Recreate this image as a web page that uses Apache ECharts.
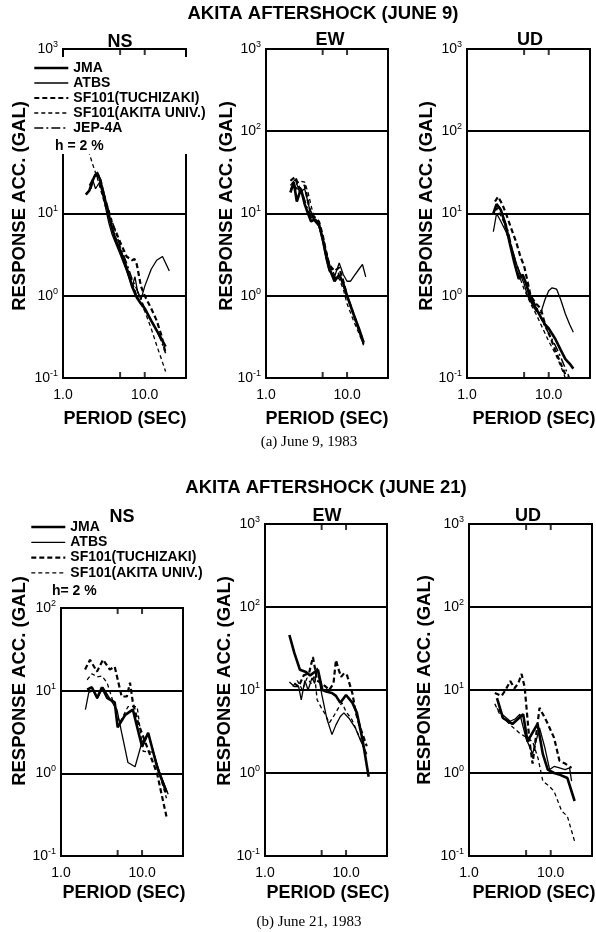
<!DOCTYPE html>
<html>
<head>
<meta charset="utf-8">
<script src="https://cdn.jsdelivr.net/npm/echarts@6/dist/echarts.min.js"></script>
<style>
  html, body { margin: 0; padding: 0; background: #fff; }
  #main { width: 596px; height: 932px; }
</style>
</head>
<body>
<div id="main"></div>
<script>
// period (sec) vs response acceleration (gal), h = 2 %
var stations = ['JMA', 'ATBS', 'SF101(TUCHIZAKI)', 'SF101(AKITA UNIV.)', 'JEP-4A'];
var periodTicks = [5, 10];

// June 9 - NS
var jun9NS_JMA = [[1.9,17],[2.1,19],[2.3,25],[2.5,30],[2.8,27],[3.2,16],[3.6,10],[4.0,6.5],[4.5,4.5],[5.0,3.6],[6.0,2.2],[7.0,1.3],[8.0,0.95],[9.0,0.8],[10,0.7],[12,0.5],[14,0.38],[16,0.3],[18,0.24]];
var jun9NS_ATBS = [[2.1,22],[2.3,26],[2.5,20],[2.8,24],[3.2,14],[3.6,8],[4,5.5],[5,3.2],[6,2.0],[7,1.3],[7.6,1.7],[8.2,1.1],[9,0.9],[10,1.3],[12,2.1],[14,2.7],[16.5,3.0],[18,2.5],[20,2.0]];
var jun9NS_TUC = [[2.6,32],[2.9,25],[3.2,16],[3.6,11],[4,7.5],[4.5,5.8],[5,4.5],[6,3],[7,2.7],[7.5,2.8],[8,2.4],[9,1.3],[10,1.0],[12,0.7],[14,0.5],[16,0.33],[18,0.2]];
var jun9NS_AKU = [[2.05,58],[2.3,40],[2.6,28],[3,17],[3.5,10],[4,6.5],[5,3.8],[6,2.2],[7,1.5],[8,1.0],[9,0.8],[10,0.65],[12,0.4],[14,0.25],[16,0.17],[18,0.12]];
var jun9NS_JEP = [[2.2,20],[2.4,28],[2.7,30],[3,22],[3.5,12],[4,8],[5,4],[6,2.5],[7,1.6],[8,1.2],[9,0.9],[10,0.7],[12,0.5],[14,0.38],[16,0.28],[18,0.2]];

// June 9 - EW
var jun9EW_JMA = [[2.0,18],[2.2,24],[2.4,14],[2.7,20],[3.0,13],[3.3,10],[3.6,8],[4,8.5],[4.5,7.5],[5,5],[5.5,3.2],[6,2.2],[7,1.5],[8,1.8],[9,1.4],[10,1.0],[12,0.6],[14,0.4],[16,0.27]];
var jun9EW_ATBS = [[2.0,22],[2.3,26],[2.6,18],[3,20],[3.4,12],[4,8],[4.5,7],[5,4.5],[5.5,2.8],[6,2.0],[7,1.7],[8,2.5],[9,1.8],[10,1.5],[11,1.5],[12,1.7],[14,2.1],[15.5,2.4],[17,1.7]];
var jun9EW_TUC = [[2.0,25],[2.3,28],[2.6,20],[3,22],[3.3,14],[3.6,9.5],[4,9],[4.5,8],[5,5.5],[5.5,3.5],[6,2.4],[7,2.0],[8,2.2],[9,1.5],[10,1.0],[12,0.6],[14,0.38],[16,0.26]];
var jun9EW_AKU = [[2,20],[2.3,22],[2.6,25],[3,24],[3.3,18],[3.8,10],[4.5,7],[5,5],[5.5,3.5],[6,2.5],[7,1.8],[8,1.6],[9,1.2],[10,0.8],[12,0.5],[14,0.35],[16,0.25]];
var jun9EW_JEP = [[2.1,24],[2.4,20],[2.8,18],[3.2,12],[3.6,9],[4,8.5],[4.5,7],[5,5],[6,2.5],[7,1.6],[8,1.9],[9,1.3],[10,1.0],[12,0.6],[14,0.4],[16,0.28]];

// June 9 - UD
var jun9UD_JMA = [[2.1,10],[2.3,13],[2.6,11],[3,7],[3.4,4],[3.8,2.5],[4.3,1.6],[4.8,1.8],[5.3,1.4],[6,0.9],[7,0.7],[8,0.55],[9,0.45],[10,0.4],[12,0.3],[14,0.22],[16,0.17],[18,0.15],[20,0.13]];
var jun9UD_ATBS = [[2.1,6],[2.3,10],[2.6,8],[3,6],[3.5,4],[4,2.5],[4.5,1.8],[5,1.4],[5.5,1.0],[6,0.85],[7,0.65],[8,0.62],[9,0.9],[10,1.15],[11,1.25],[12.5,1.2],[14,0.9],[16,0.6],[18,0.45],[20,0.36]];
var jun9UD_TUC = [[2.2,14],[2.4,16],[2.7,13],[3,10],[3.4,7],[4,4.5],[4.5,3],[5,2.3],[5.5,1.5],[6,1.0],[7,0.8],[8,0.7],[9,0.45],[10,0.35],[12,0.22],[14,0.15],[16,0.11],[17,0.1]];
var jun9UD_AKU = [[2.2,12],[2.5,10],[2.8,8],[3.2,5],[3.6,3.5],[4,2.2],[4.5,1.6],[5,1.2],[6,0.8],[7,0.6],[8,0.45],[9,0.35],[10,0.28],[12,0.2],[14,0.14],[16,0.1]];
var jun9UD_JEP = [[2.2,11],[2.5,12],[2.8,9],[3.2,6],[3.6,3.5],[4,2.5],[4.5,1.8],[5,1.6],[6,1.0],[7,0.75],[8,0.55],[9,0.42],[10,0.35],[12,0.25],[14,0.18],[16,0.13],[18,0.1]];

// June 21 - NS
var jun21NS_JMA = [[2.1,10.3],[2.4,11],[2.8,8.2],[3.2,11],[3.7,8.2],[4.6,7.2],[5.0,3.6],[6.2,5.1],[7.7,5.9],[10,2.1],[11.9,3.1],[15.3,1.2],[20,0.59]];
var jun21NS_ATBS = [[2.0,5.9],[2.2,9.5],[2.5,10],[2.8,8],[3.3,11],[4,8],[4.9,5.9],[5.6,3.1],[6.7,1.35],[8.2,1.2],[10,2.4],[11.9,3.0],[16.6,1.0],[21,0.56]];
var jun21NS_TUC = [[1.98,18],[2.28,23.6],[2.78,17],[3.3,23.7],[4.0,18],[4.6,19.5],[5.6,8.5],[6.5,8.5],[7.1,12.5],[7.7,7.2],[9,4],[11.5,2.1],[15.3,1.0],[20,0.3]];
var jun21NS_AKU = [[2.1,13.5],[2.4,16],[2.8,14.7],[3.2,15],[3.7,12.5],[4.6,6.4],[5.3,4.1],[6.7,6.4],[8.7,6.4],[10.3,1.85],[13.7,1.8],[20,0.5]];

// June 21 - EW
var jun21EW_JMA = [[2.0,46],[2.3,28],[2.7,17.5],[3.2,16.5],[3.6,15],[4.1,16.5],[4.5,17.5],[5.1,10],[5.8,9.5],[6.7,9.2],[7.5,8.5],[8.5,7],[10,8.7],[12,7],[13.6,5.3],[16,2.5],[19,0.9]];
var jun21EW_ATBS = [[2.0,12.5],[2.3,11],[2.6,11],[2.8,7.6],[3.1,13],[3.4,10],[3.8,14],[4.1,12],[4.4,18.5],[5,9],[5.8,4.5],[6.7,2.9],[7.5,3.8],[8.5,4.8],[9.4,5.3],[11,4.5],[13,3.5],[15,2.5],[18,1.7]];
var jun21EW_TUC = [[2.3,12],[2.6,11],[3,15],[3.5,16],[3.9,25],[4.4,13],[5,12],[5.6,11],[6.2,10],[7,12],[7.5,23],[8.2,17],[8.7,14.4],[9.5,16],[10.3,15],[12,9],[13.2,5.3],[15,3.5],[18,2.1]];
var jun21EW_AKU = [[2.2,11],[2.5,13],[2.9,10],[3.3,14],[3.7,12],[4.1,15],[4.4,7.6],[5,6],[5.6,5],[6.2,4],[7,4.8],[8,6],[8.9,7],[10,5.5],[11.8,4.4],[14,3],[16,2.2],[18,1.55]];

// June 21 - UD
var jun21UD_JMA = [[2.2,8],[2.6,4.6],[3.0,4.2],[3.4,3.9],[4.0,4.5],[4.6,5.1],[5.2,2.4],[5.8,2.9],[6.9,3.9],[8,1.7],[9.2,1.1],[11,1.0],[13,0.95],[16,0.87],[19.6,0.46]];
var jun21UD_ATBS = [[2.2,6],[2.6,5],[3.2,4.2],[3.7,4.5],[4.2,5.1],[5,2.6],[6,1.7],[7.3,3.5],[8.5,2],[9.7,1.1],[11,1.2],[12.8,1.15],[15,1.1],[17,1.15],[18,0.8]];
var jun21UD_TUC = [[2.07,9.2],[2.5,8.5],[2.8,10],[3.2,12.8],[3.6,10.5],[4.0,12],[4.4,15.6],[4.8,10.8],[5.5,2.4],[6.0,1.3],[7.3,6.1],[8.9,4.2],[11,2.65],[12.8,1.4],[15,1.3],[18,1.15]];
var jun21UD_AKU = [[2.07,6.8],[2.4,5],[2.9,4.2],[3.5,3.5],[4.2,3],[5,2.7],[6,2.4],[7,1.5],[8,0.8],[9.5,0.7],[11,0.6],[13.6,0.35],[16,0.3],[19.6,0.15]];

// panel layout: grid box [left, top, width, height], y range
var panels = [
  { box: [63, 49, 123, 329], yMin: 0.1, yMax: 1000, curves: [jun9NS_JMA, jun9NS_ATBS, jun9NS_TUC, jun9NS_AKU, jun9NS_JEP] },
  { box: [266, 49, 122, 329], yMin: 0.1, yMax: 1000, curves: [jun9EW_JMA, jun9EW_ATBS, jun9EW_TUC, jun9EW_AKU, jun9EW_JEP] },
  { box: [467, 49, 123, 329], yMin: 0.1, yMax: 1000, curves: [jun9UD_JMA, jun9UD_ATBS, jun9UD_TUC, jun9UD_AKU, jun9UD_JEP] },
  { box: [61, 608, 122, 248], yMin: 0.1, yMax: 100, curves: [jun21NS_JMA, jun21NS_ATBS, jun21NS_TUC, jun21NS_AKU] },
  { box: [265, 524, 122, 332], yMin: 0.1, yMax: 1000, curves: [jun21EW_JMA, jun21EW_ATBS, jun21EW_TUC, jun21EW_AKU] },
  { box: [469, 524, 123, 332], yMin: 0.1, yMax: 1000, curves: [jun21UD_JMA, jun21UD_ATBS, jun21UD_TUC, jun21UD_AKU] }
];

var lineStyles = [
  { width: 2.6, type: 'solid' },
  { width: 1.3, type: 'solid' },
  { width: 2.2, type: [5, 3] },
  { width: 1.3, type: [4, 3] },
  { width: 1.5, type: [9, 3, 2, 3] }
];

var sans = 'Liberation Sans, Arial, sans-serif';
var serif = 'Liberation Serif, Times New Roman, serif';

var grids = [], xAxes = [], yAxes = [], series = [];

panels.forEach(function (p, i) {
  grids.push({
    left: p.box[0], top: p.box[1], width: p.box[2], height: p.box[3],
    show: true, borderColor: '#000', borderWidth: 2, backgroundColor: 'transparent'
  });
  xAxes.push({
    gridIndex: i, type: 'log', logBase: 10, min: 1, max: 32,
    axisLine: { show: false }, axisTick: { show: false }, splitLine: { show: false },
    axisLabel: {
      margin: 10, color: '#000', fontFamily: sans, fontSize: 14, showMaxLabel: false,
      formatter: function (v) { return v.toFixed(1); }
    }
  });
  yAxes.push({
    gridIndex: i, type: 'log', logBase: 10, min: p.yMin, max: p.yMax,
    axisLine: { show: false }, axisTick: { show: false },
    splitLine: { show: true, lineStyle: { color: '#000', width: 2 } },
    axisLabel: {
      margin: 5, color: '#000',
      formatter: function (v) { return '{b|10}{e|' + Math.round(Math.log10(v)) + '}'; },
      rich: {
        b: { fontSize: 14, fontFamily: sans, color: '#000', lineHeight: 18 },
        e: { fontSize: 9, fontFamily: sans, color: '#000', lineHeight: 10, verticalAlign: 'top' }
      }
    }
  });
  p.curves.forEach(function (c, k) {
    series.push({
      type: 'line', name: stations[k], xAxisIndex: i, yAxisIndex: i,
      data: c, symbol: 'none', color: '#000', z: 3,
      lineStyle: { color: '#000', width: lineStyles[k].width, type: lineStyles[k].type }
    });
  });
  // small period ticks on bottom and top edges
  series.push({
    type: 'scatter', xAxisIndex: i, yAxisIndex: i, clip: false, silent: true,
    data: periodTicks.map(function (t) { return [t, p.yMin]; }),
    symbol: 'rect', symbolSize: [2, 6], symbolOffset: [0, -3], itemStyle: { color: '#000' }
  });
  series.push({
    type: 'scatter', xAxisIndex: i, yAxisIndex: i, clip: false, silent: true,
    data: periodTicks.map(function (t) { return [t, p.yMax]; }),
    symbol: 'rect', symbolSize: [2, 6], symbolOffset: [0, 3], itemStyle: { color: '#000' }
  });
});

function txt(x, y, s, size, opts) {
  opts = opts || {};
  return {
    type: 'text', x: x, y: y, rotation: opts.rot || 0, z: 20,
    style: {
      text: s, fill: '#000', textAlign: opts.align || 'center', textVerticalAlign: 'middle',
      font: (opts.bold ? 'bold ' : '') + size + 'px ' + (opts.font || sans)
    }
  };
}

var ylab = 'RESPONSE ACC. (GAL)';
var graphics = [
  // legend sits over the upper-left of the first panel
  { type: 'rect', z: 10, shape: { x: 30, y: 57, width: 172, height: 97 }, style: { fill: '#fff' } },
  txt(323, 14, 'AKITA AFTERSHOCK (JUNE 9)', 18.5, { bold: true }),
  txt(326, 488, 'AKITA AFTERSHOCK (JUNE 21)', 18.5, { bold: true }),
  txt(120, 42, 'NS', 18, { bold: true }), txt(330, 40, 'EW', 18, { bold: true }), txt(530, 40, 'UD', 18, { bold: true }),
  txt(122, 517, 'NS', 18, { bold: true }), txt(327, 516, 'EW', 18, { bold: true }), txt(528, 516, 'UD', 18, { bold: true }),
  txt(20, 206, ylab, 18.5, { rot: Math.PI / 2, bold: true }),
  txt(227, 206, ylab, 18.5, { rot: Math.PI / 2, bold: true }),
  txt(427, 206, ylab, 18.5, { rot: Math.PI / 2, bold: true }),
  txt(20, 681, ylab, 18.5, { rot: Math.PI / 2, bold: true }),
  txt(225, 681, ylab, 18.5, { rot: Math.PI / 2, bold: true }),
  txt(425, 680, ylab, 18.5, { rot: Math.PI / 2, bold: true }),
  txt(125, 419, 'PERIOD (SEC)', 18, { bold: true }),
  txt(327, 419, 'PERIOD (SEC)', 18, { bold: true }),
  txt(534, 419, 'PERIOD (SEC)', 18, { bold: true }),
  txt(124, 893, 'PERIOD (SEC)', 18, { bold: true }),
  txt(328, 893, 'PERIOD (SEC)', 18, { bold: true }),
  txt(534, 893, 'PERIOD (SEC)', 18, { bold: true }),
  txt(309, 442, '(a) June 9, 1983', 15, { font: serif }),
  txt(309, 922, '(b) June 21, 1983', 15, { font: serif }),
  txt(55, 146, 'h = 2 %', 14, { bold: true, align: 'left' }),
  txt(52, 591, 'h= 2 %', 14, { bold: true, align: 'left' })
];

var legendText = { color: '#000', fontFamily: sans, fontSize: 14, fontWeight: 'bold', lineHeight: 14 };
function legendItems(n) {
  return stations.slice(0, n).map(function (s, k) {
    return { name: s, lineStyle: { color: '#000', width: lineStyles[k].width, type: lineStyles[k].type } };
  });
}

var option = {
  animation: false,
  backgroundColor: '#fff',
  grid: grids,
  xAxis: xAxes,
  yAxis: yAxes,
  legend: [
    { data: legendItems(5), orient: 'vertical', left: 33, top: 61, padding: 0, itemWidth: 34, itemHeight: 12,
      itemGap: 1, selectedMode: false, z: 15, textStyle: legendText, itemStyle: { opacity: 0 } },
    { data: legendItems(4), orient: 'vertical', left: 30, top: 520, padding: 0, itemWidth: 34, itemHeight: 12,
      itemGap: 1.3, selectedMode: false, z: 15, textStyle: legendText, itemStyle: { opacity: 0 } }
  ],
  graphic: graphics,
  series: series
};

var chart = echarts.init(document.getElementById('main'));
chart.setOption(option);
</script>
</body>
</html>
